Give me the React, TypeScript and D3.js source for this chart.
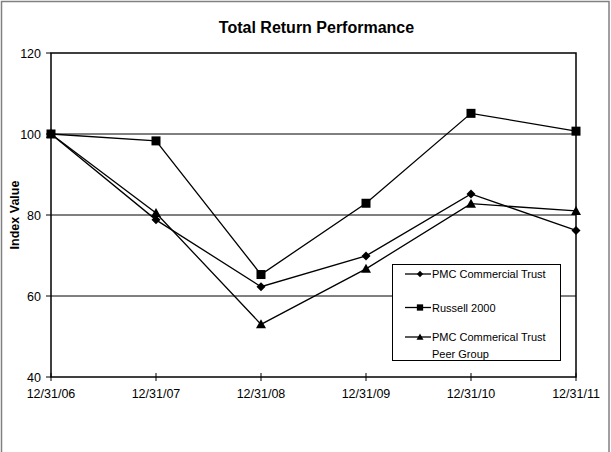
import React from "react";
import * as d3 from "d3";

const categories = ["12/31/06", "12/31/07", "12/31/08", "12/31/09", "12/31/10", "12/31/11"];
const pmcValues = [100, 78.8, 62.3, 69.9, 85.2, 76.2];
const russellValues = [100, 98.3, 65.3, 82.9, 105.1, 100.7];
const peerValues = [100, 80.5, 53.0, 66.7, 82.8, 81.0];
const yTicks = [40, 60, 80, 100, 120];

const series = [
  { name: ["PMC Commercial Trust"], values: pmcValues, marker: "diamond" },
  { name: ["Russell 2000"], values: russellValues, marker: "square" },
  { name: ["PMC Commerical Trust", "Peer Group"], values: peerValues, marker: "triangle" },
];

const W = 611, H = 452;
const L = 51, R = 576, T = 53, B = 377;
const font = "'Liberation Sans', Arial, sans-serif";

function Marker({ type, x, y, s = 1 }: { type: string; x: number; y: number; s?: number }) {
  if (type === "diamond") {
    const r = 4.5 * s;
    return <path d={`M${x},${y - r}L${x + r},${y}L${x},${y + r}L${x - r},${y}Z`} fill="#000" />;
  }
  if (type === "square") {
    const r = 4.5 * s;
    return <rect x={x - r} y={y - r} width={2 * r} height={2 * r} fill="#000" />;
  }
  const r = 5 * s;
  return <path d={`M${x},${y - r}L${x + r},${y + r * 0.8}L${x - r},${y + r * 0.8}Z`} fill="#000" />;
}

export default function App() {
  const x = d3.scalePoint<string>().domain(categories).range([L, R]);
  const y = d3.scaleLinear().domain([40, 120]).range([B, T]);
  const line = d3
    .line<number>()
    .x((_, i) => x(categories[i]) as number)
    .y((d) => y(d));

  const legendRows = [274, 307.5, 337];

  return (
    <svg width={W} height={H} style={{ position: "absolute", left: 0, top: 0 }} fontFamily={font}>
      <rect x={0} y={0} width={W} height={H} fill="#fff" />
      <rect x={1.5} y={1.5} width={607.5} height={H + 5} fill="none" stroke="#808080" strokeWidth={1.5} />
      <text x={316.5} y={33} textAnchor="middle" fontSize={16} fontWeight="bold">
        Total Return Performance
      </text>
      {/* gridlines */}
      {yTicks.slice(1, -1).map((t) => (
        <line key={t} x1={L} x2={R} y1={y(t)} y2={y(t)} stroke="#000" strokeWidth={1} />
      ))}
      {/* plot border */}
      <rect x={L} y={T} width={R - L} height={B - T} fill="none" stroke="#000" strokeWidth={1.5} />
      {/* y ticks */}
      {yTicks.map((t) => (
        <g key={t}>
          <line x1={L - 5} x2={L} y1={y(t)} y2={y(t)} stroke="#000" strokeWidth={1} />
          <text x={41} y={y(t) + 4.5} textAnchor="end" fontSize={12.5}>
            {t}
          </text>
        </g>
      ))}
      {/* x ticks */}
      {categories.map((c) => (
        <g key={c}>
          <line x1={x(c)} x2={x(c)} y1={B - 4} y2={B + 4} stroke="#000" strokeWidth={1} />
          <text x={x(c)} y={398} textAnchor="middle" fontSize={12.5}>
            {c}
          </text>
        </g>
      ))}
      <text
        transform={`translate(19,${(T + B) / 2}) rotate(-90)`}
        textAnchor="middle"
        fontSize={12.5}
        fontWeight="bold"
      >
        Index Value
      </text>
      {/* series */}
      {series.map((s) => (
        <g key={s.marker}>
          <path d={line(s.values) || ""} fill="none" stroke="#000" strokeWidth={1.3} />
          {s.values.map((v, i) => (
            <Marker key={i} type={s.marker} x={x(categories[i]) as number} y={y(v)} />
          ))}
        </g>
      ))}
      {/* legend */}
      <rect x={392.5} y={264.5} width={168} height={96} fill="#fff" stroke="#000" strokeWidth={1} />
      {series.map((s, i) => (
        <g key={s.marker}>
          <line x1={405} x2={431} y1={legendRows[i]} y2={legendRows[i]} stroke="#000" strokeWidth={1.3} />
          <Marker type={s.marker} x={420} y={legendRows[i]} s={0.7} />
          {s.name.map((n, j) => (
            <text key={j} x={432} y={legendRows[i] + 4 + j * 16.5} fontSize={11}>
              {n}
            </text>
          ))}
        </g>
      ))}
    </svg>
  );
}
